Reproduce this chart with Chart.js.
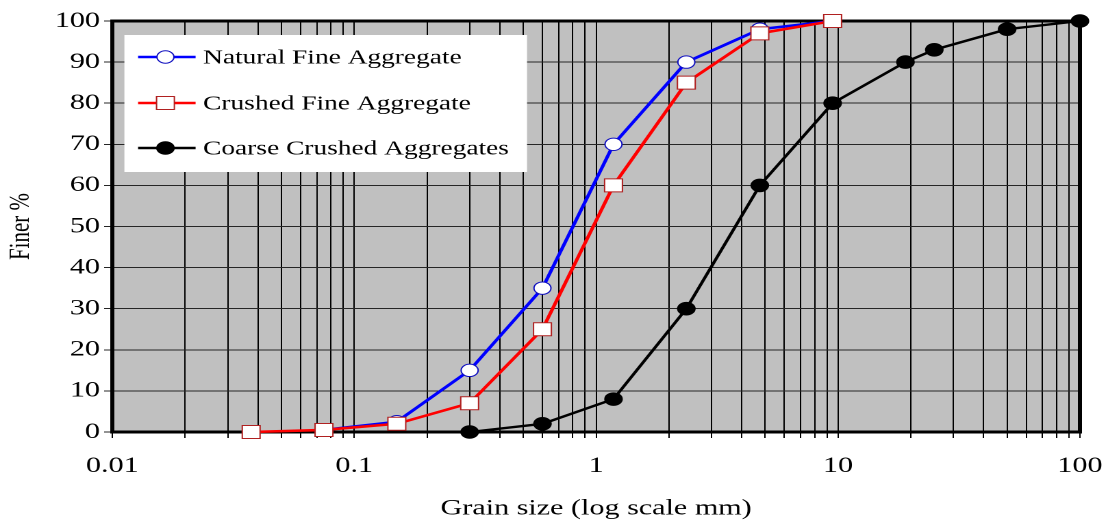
<!DOCTYPE html>
<html>
  <head>
    <meta charset="utf-8">
    <title>Grain Size Distribution</title>
    <script src="https://cdn.jsdelivr.net/npm/chart.js"></script>
    <style>
    body {
      margin: 0;
      background: #fff;
    }
    /* the chart is laid out narrow and stretched sideways, like the printed figure */
    #wrap {
      width: 809px;
      height: 523px;
      transform: scaleX(1.3696);
      transform-origin: 0 0;
    }
  </style>
  </head>
  <body>
    <div id="wrap"><canvas id="gradingChart" width="809" height="523"></canvas></div>
    <script>
    // Sieve sizes (mm) and percent passing for each material
    const naturalSizes = [0.075, 0.15, 0.3, 0.6, 1.18, 2.36, 4.75, 9.5];
    const naturalFiner = [0.5, 2.5, 15, 35, 70, 90, 98, 100];

    const crushedSizes = [0.0375, 0.075, 0.15, 0.3, 0.6, 1.18, 2.36, 4.75, 9.5];
    const crushedFiner = [0, 0.5, 2, 7, 25, 60, 85, 97, 100];

    const coarseSizes = [0.3, 0.6, 1.18, 2.36, 4.75, 9.5, 19, 25, 50, 100];
    const coarseFiner = [0, 2, 8, 30, 60, 80, 90, 93, 98, 100];

    const decades = [0.01, 0.1, 1, 10, 100];
    const decadeLabels = ["0.01", "0.1", "1", "10", "100"];

    const serif = "'Liberation Serif', 'Times New Roman', serif";

    function toPoints(xs, ys) {
      return xs.map((x, i) => ({ x: x, y: ys[i] }));
    }

    // gray plot background, white legend box and heavy frame
    const plotFrame = {
      id: "plotFrame",
      beforeDraw(chart) {
        const a = chart.chartArea;
        const ctx = chart.ctx;
        ctx.save();
        ctx.fillStyle = "#c0c0c0";
        ctx.fillRect(a.left, a.top, a.right - a.left, a.bottom - a.top);
        ctx.restore();
      },
      beforeDatasetsDraw(chart) {
        const a = chart.chartArea;
        const ctx = chart.ctx;
        ctx.save();

        const bx = a.left + 8.8;
        const by = a.top + 14;
        ctx.fillStyle = "#fff";
        ctx.fillRect(bx, by, 294, 137);

        const rows = [22, 68, 113];
        chart.data.datasets.forEach((ds, i) => {
          const y = by + rows[i];
          ctx.strokeStyle = ds.borderColor;
          ctx.lineWidth = ds.borderWidth;
          ctx.beginPath();
          ctx.moveTo(bx + 10, y);
          ctx.lineTo(bx + 52, y);
          ctx.stroke();

          const mx = bx + 30;
          ctx.fillStyle = ds.pointBackgroundColor;
          ctx.strokeStyle = ds.pointBorderColor;
          ctx.lineWidth = ds.pointBorderWidth;
          ctx.beginPath();
          if (ds.pointStyle === "rect") {
            const h = ds.pointRadius * Math.SQRT1_2;
            ctx.rect(mx - h, y - h, 2 * h, 2 * h);
          } else {
            ctx.arc(mx, y, ds.pointRadius, 0, Math.PI * 2);
          }
          ctx.fill();
          ctx.stroke();

          ctx.fillStyle = "#000";
          ctx.font = "20px " + serif;
          ctx.textBaseline = "middle";
          ctx.textAlign = "left";
          ctx.fillText(ds.label, bx + 57.5, y + 1);
        });

        ctx.strokeStyle = "#000";
        ctx.lineWidth = 3;
        ctx.strokeRect(a.left, a.top, a.right - a.left, a.bottom - a.top);
        ctx.restore();
      }
    };

    const ctx = document.getElementById("gradingChart").getContext("2d");
    new Chart(ctx, {
      type: "line",
      data: {
        datasets: [
          {
            label: "Natural Fine Aggregate",
            data: toPoints(naturalSizes, naturalFiner),
            borderColor: "#0000ff",
            borderWidth: 2.6,
            pointStyle: "circle",
            pointRadius: 6.2,
            pointBackgroundColor: "#ffffff",
            pointBorderColor: "#1010c0",
            pointBorderWidth: 1,
            order: 1,
            clip: false,
            tension: 0
          },
          {
            label: "Crushed Fine Aggregate",
            data: toPoints(crushedSizes, crushedFiner),
            borderColor: "#ff0000",
            borderWidth: 2.6,
            pointStyle: "rect",
            pointRadius: 9.2,
            pointBackgroundColor: "#ffffff",
            pointBorderColor: "#b02020",
            pointBorderWidth: 1,
            order: 0,
            clip: false,
            tension: 0
          },
          {
            label: "Coarse Crushed Aggregates",
            data: toPoints(coarseSizes, coarseFiner),
            borderColor: "#000000",
            borderWidth: 2.4,
            pointStyle: "circle",
            pointRadius: 6.3,
            pointBackgroundColor: "#000000",
            pointBorderColor: "#000000",
            pointBorderWidth: 1,
            order: 2,
            clip: false,
            tension: 0
          }
        ]
      },
      options: {
        responsive: false,
        animation: false,
        devicePixelRatio: 2,
        layout: {
          padding: { top: 21, right: 20.5, left: 0, bottom: 0 }
        },
        plugins: {
          legend: { display: false },
          tooltip: { enabled: false }
        },
        scales: {
          x: {
            type: "logarithmic",
            min: 0.01,
            max: 100,
            afterBuildTicks(scale) {
              const ticks = [];
              decades.forEach((d, k) => {
                const last = k === decades.length - 1 ? 1 : 9;
                for (let m = 1; m <= last; m++) {
                  ticks.push({ value: d * m });
                }
              });
              scale.ticks = ticks;
            },
            afterFit(scale) {
              scale.height = 91;
              scale.paddingLeft = 0;
              scale.paddingRight = 0;
            },
            ticks: {
              autoSkip: false,
              maxRotation: 0,
              padding: 15,
              color: "#000",
              font: { family: serif, size: 22 },
              callback(value) {
                const i = decades.findIndex((d) => Math.abs(d - value) / d < 1e-6);
                return i >= 0 ? decadeLabels[i] : "";
              }
            },
            grid: {
              color: "#000",
              lineWidth: 1,
              tickLength: 6
            },
            border: { display: false },
            title: {
              display: true,
              text: "Grain size (log scale mm)",
              color: "#000",
              font: { family: serif, size: 22 },
              padding: { top: 0, bottom: 1 }
            }
          },
          y: {
            min: 0,
            max: 100,
            afterFit(scale) {
              scale.width = 82;
            },
            ticks: {
              stepSize: 10,
              padding: 3,
              color: "#000",
              font: { family: serif, size: 22 }
            },
            grid: {
              color: "#262626",
              lineWidth: 1,
              tickLength: 6
            },
            border: { display: false },
            title: {
              display: true,
              text: "Finer %",
              color: "#000",
              font: { family: serif, size: 21 },
              padding: { top: 3, bottom: 0 }
            }
          }
        }
      },
      plugins: [plotFrame]
    });
  </script>
  </body>
</html>
